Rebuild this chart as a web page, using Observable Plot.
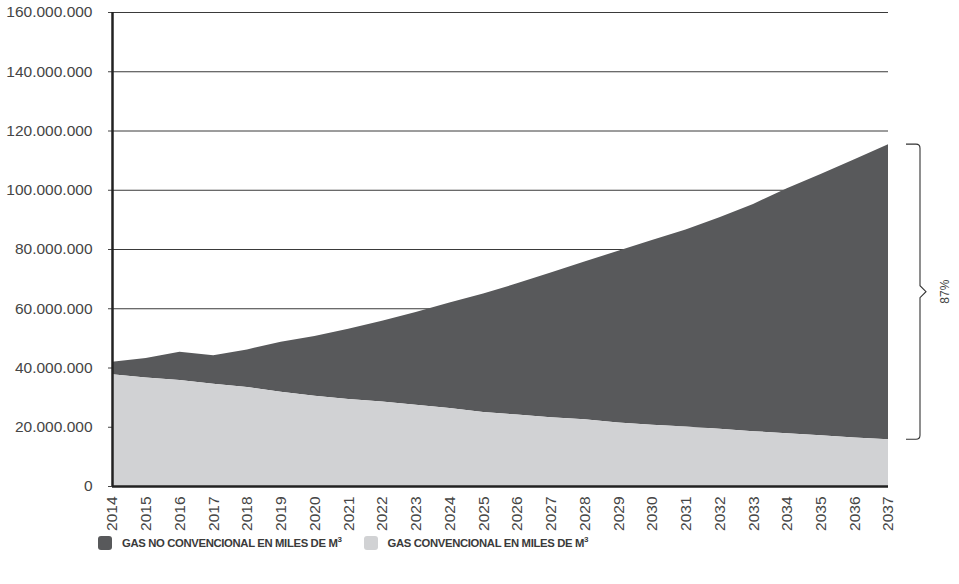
<!DOCTYPE html>
<html><head><meta charset="utf-8">
<script src="https://cdn.jsdelivr.net/npm/d3@7"></script>
<script src="https://cdn.jsdelivr.net/npm/@observablehq/plot@0.6"></script>
<style>
body{margin:0;background:#fff;font-family:"Liberation Sans",Arial,Helvetica,sans-serif;}
#wrap{position:relative;width:959px;height:584px;overflow:hidden;}
.legend{position:absolute;top:536px;left:98px;display:flex;align-items:center;font-weight:bold;font-size:11.3px;letter-spacing:-0.35px;color:#3a3a3a;white-space:nowrap;}
.item{display:flex;align-items:center;}
.sw{width:14px;height:14px;border-radius:3px;margin-right:10px;}
sup{font-size:8px;vertical-align:5px;line-height:0;}
</style></head><body><div id="wrap"></div>
<script>
const years = [2014,2015,2016,2017,2018,2019,2020,2021,2022,2023,2024,2025,2026,2027,2028,2029,2030,2031,2032,2033,2034,2035,2036,2037];
const convencional = [37.7e6,36.6e6,35.8e6,34.5e6,33.4e6,31.8e6,30.5e6,29.4e6,28.5e6,27.4e6,26.3e6,25.0e6,24.1e6,23.2e6,22.5e6,21.4e6,20.7e6,20.1e6,19.3e6,18.5e6,17.8e6,17.1e6,16.4e6,15.8e6];
const noConvencional = [4.2e6,6.6e6,9.5e6,9.6e6,12.7e6,16.9e6,20.1e6,23.7e6,27.3e6,31.3e6,35.6e6,40.0e6,44.3e6,48.9e6,53.3e6,58.0e6,62.3e6,66.5e6,71.4e6,76.7e6,82.7e6,88.2e6,93.9e6,99.6e6];
const yTicks = [0,20e6,40e6,60e6,80e6,100e6,120e6,140e6,160e6];
const gridTicks = [20e6,40e6,60e6,80e6,100e6,120e6,140e6,160e6];
const porcentaje = "87%";
const seriesNames = ["GAS NO CONVENCIONAL EN MILES DE M", "GAS CONVENCIONAL EN MILES DE M"];
const seriesColors = ["#58595b", "#d1d2d4"];

const rows = years.map((year, i) => ({year, conv: convencional[i], total: convencional[i] + noConvencional[i]}));
const fmt = d3.formatLocale({decimal: ",", thousands: ".", grouping: [3], currency: ["", ""]}).format(",d");
const last = rows[rows.length - 1];

function brace(index, scales) {
  const ns = "http://www.w3.org/2000/svg";
  const g = document.createElementNS(ns, "g");
  const xr = scales.x(last.year) + 18;
  const yt = scales.y(last.total), yb = scales.y(last.conv), ym = (yt + yb) / 2;
  const p = document.createElementNS(ns, "path");
  p.setAttribute("d", `M${xr},${yt}H${xr+10}Q${xr+14},${yt} ${xr+14},${yt+4}V${ym-6}L${xr+20},${ym}L${xr+14},${ym+6}V${yb-4}Q${xr+14},${yb} ${xr+10},${yb}H${xr}`);
  p.setAttribute("fill", "none");
  p.setAttribute("stroke", "#333");
  p.setAttribute("stroke-width", "1.1");
  g.appendChild(p);
  const t = document.createElementNS(ns, "text");
  t.setAttribute("transform", `translate(${xr+43},${ym}) rotate(-90)`);
  t.setAttribute("text-anchor", "middle");
  t.setAttribute("font-size", "12");
  t.setAttribute("fill", "#444");
  t.textContent = porcentaje;
  g.appendChild(t);
  return g;
}

const chart = Plot.plot({
  width: 959,
  height: 535,
  marginLeft: 112,
  marginRight: 71,
  marginTop: 12,
  marginBottom: 49,
  style: {fontFamily: "'Liberation Sans', Arial, sans-serif", fontSize: "15.5px", color: "#454545", background: "#fff"},
  x: {domain: [2014, 2037]},
  y: {domain: [0, 160e6]},
  marks: [
    Plot.ruleY(gridTicks, {x1: 2014, x2: 2037, stroke: "#3a3a3a", strokeWidth: 1}),
    Plot.areaY(rows, {x: "year", y1: "conv", y2: "total", fill: seriesColors[0]}),
    Plot.areaY(rows, {x: "year", y1: 0, y2: "conv", fill: seriesColors[1]}),
    Plot.axisY({ticks: yTicks, tickFormat: fmt, tickSize: 4, tickPadding: 16, label: null, fontSize: 15.5}),
    Plot.axisX({ticks: years, tickFormat: d => String(d), tickRotate: -90, tickSize: 0, tickPadding: 10, label: null, fontSize: 15.5}),
    Plot.ruleX([2014], {y1: 0, y2: 160e6, stroke: "#222", strokeWidth: 2.5}),
    Plot.ruleY([0], {x1: 2014, x2: 2037, stroke: "#222", strokeWidth: 2.5}),
    brace
  ]
});
const wrap = document.getElementById("wrap");
wrap.appendChild(chart);

const legend = document.createElement("div");
legend.className = "legend";
seriesNames.forEach((name, i) => {
  const it = document.createElement("div");
  it.className = "item";
  if (i > 0) it.style.marginLeft = "22px";
  const sw = document.createElement("span");
  sw.className = "sw";
  sw.style.background = seriesColors[i];
  const tx = document.createElement("span");
  tx.innerHTML = name + "<sup>3</sup>";
  it.appendChild(sw); it.appendChild(tx);
  legend.appendChild(it);
});
wrap.appendChild(legend);
</script></body></html>
